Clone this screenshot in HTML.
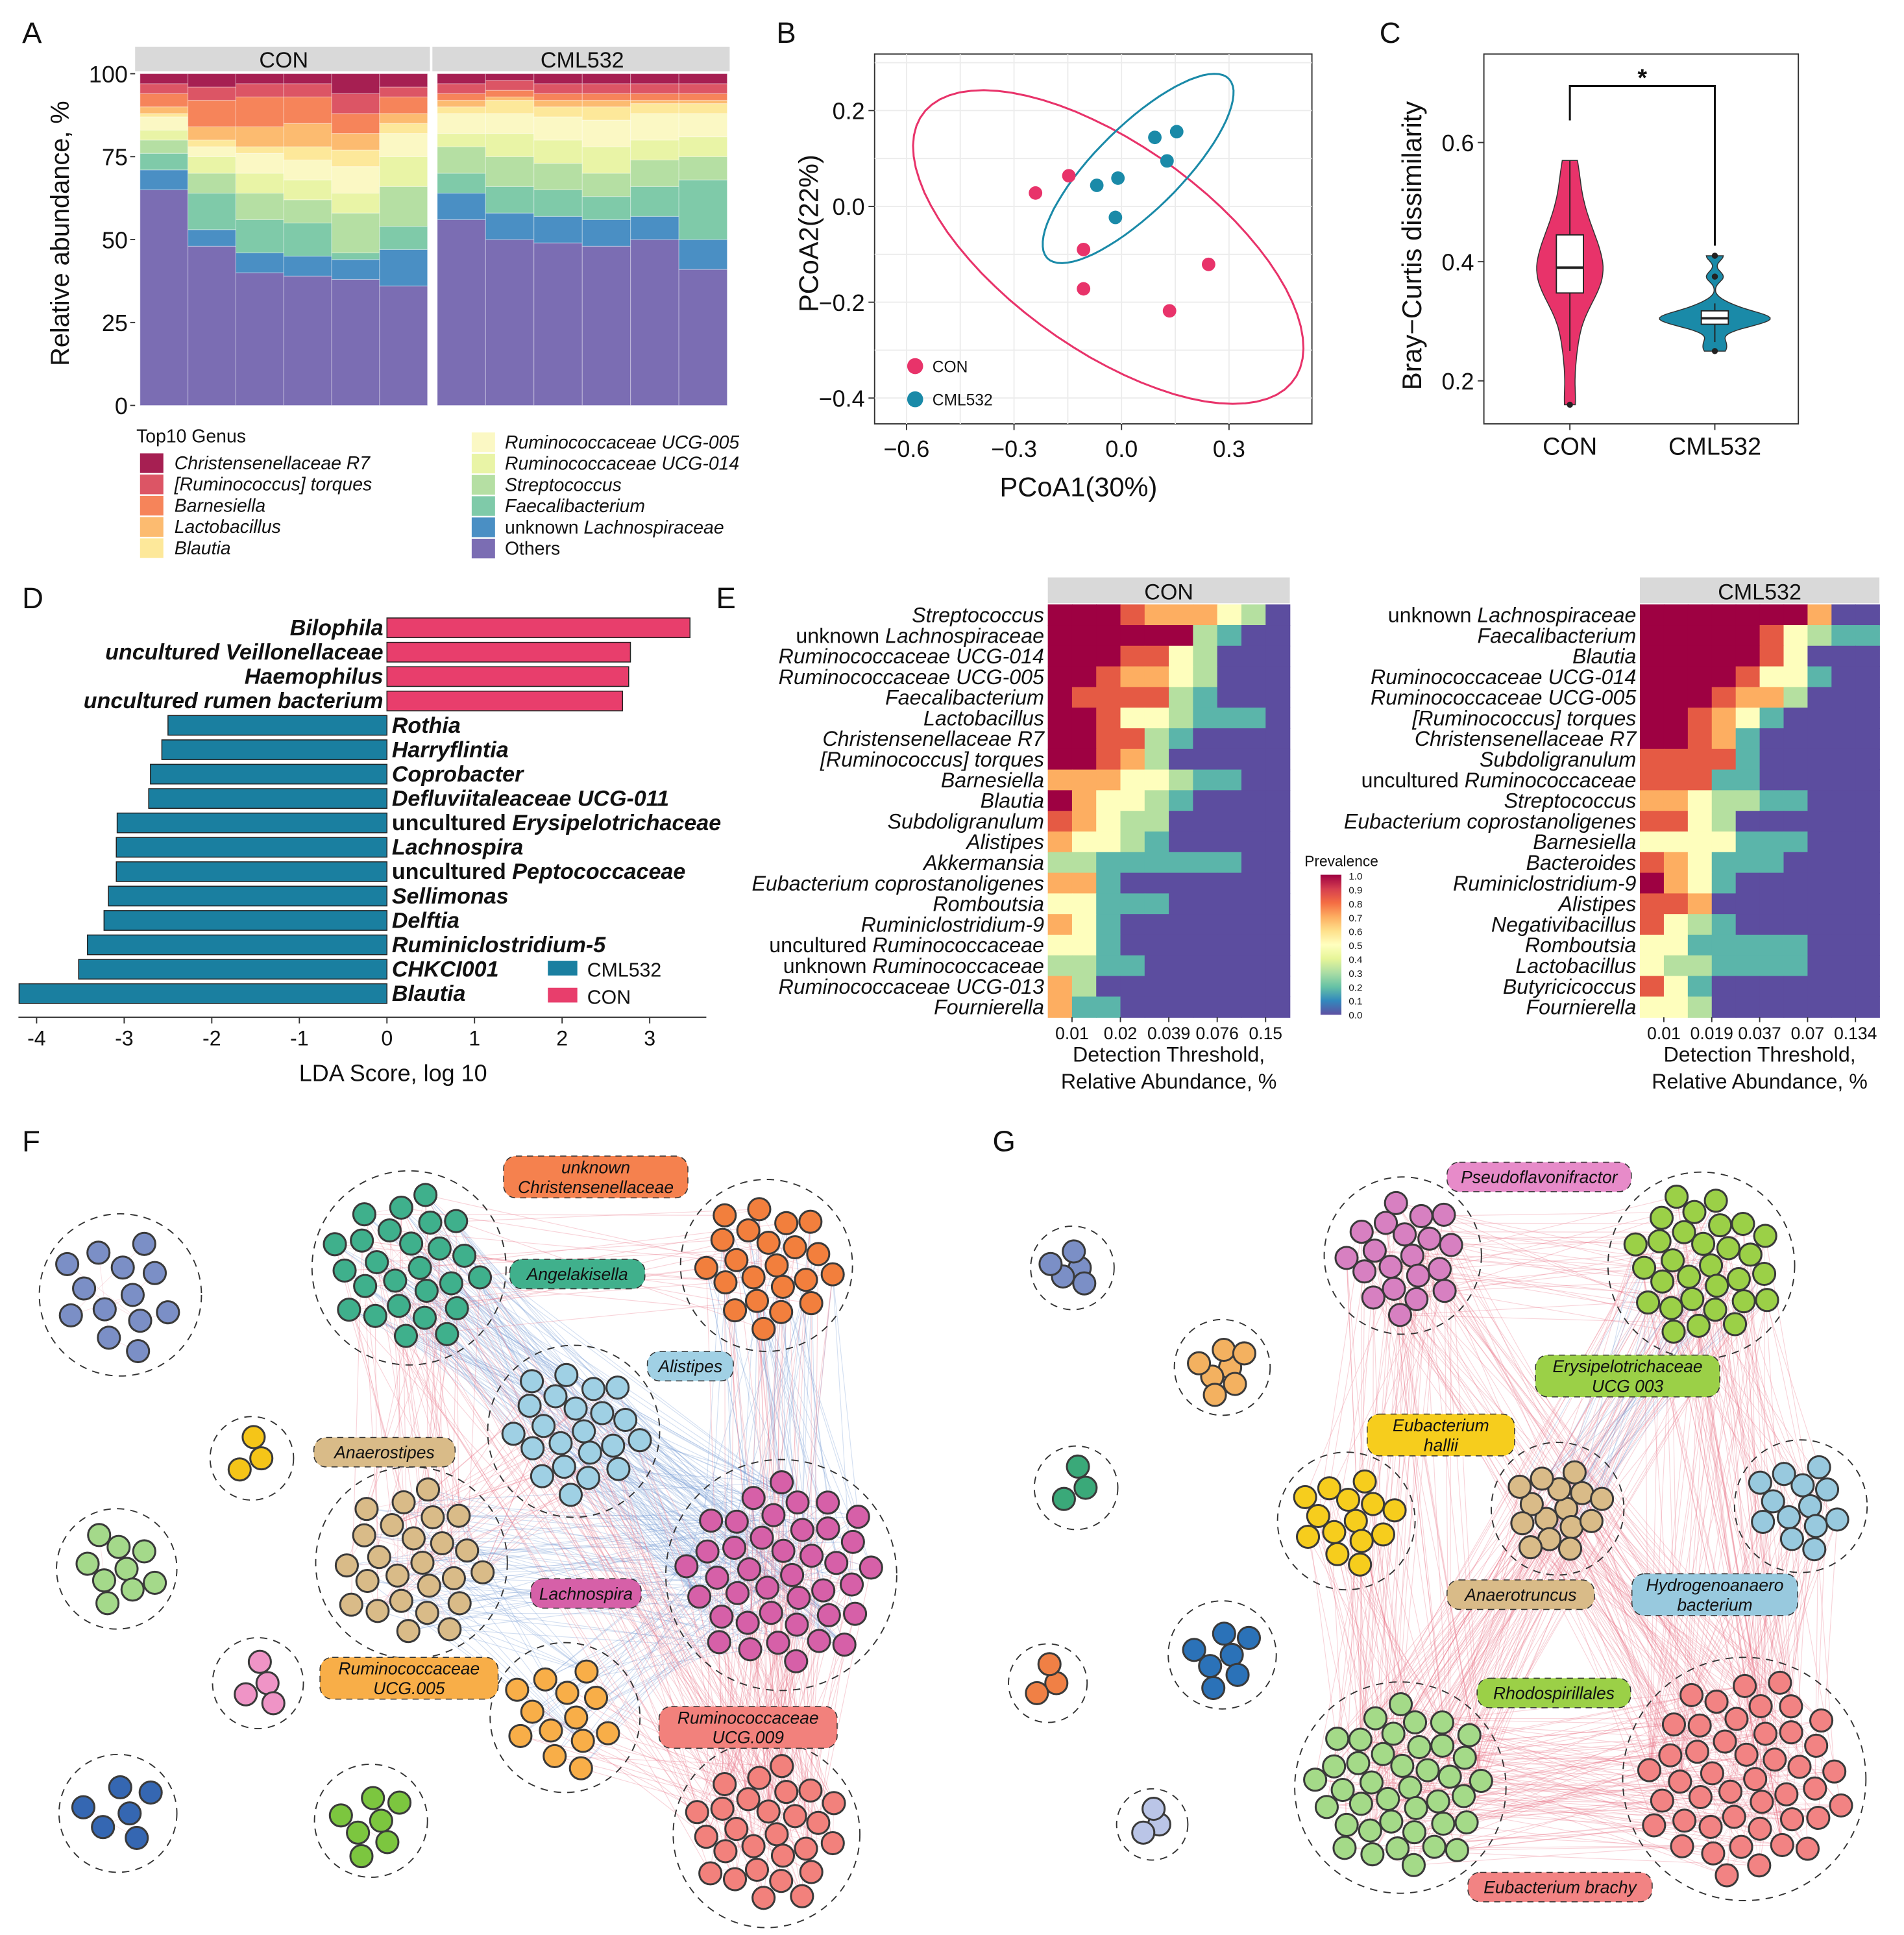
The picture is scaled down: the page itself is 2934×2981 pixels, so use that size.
<!DOCTYPE html>
<html><head><meta charset="utf-8"><style>
html,body{margin:0;padding:0;background:#fff}
svg{display:block}
text{font-family:"Liberation Sans",Arial,sans-serif;fill:#111}
</style></head><body>
<svg id="fig" xmlns="http://www.w3.org/2000/svg" width="2934" height="2981" viewBox="0 0 1550 1575" preserveAspectRatio="none">
<rect x="0" y="0" width="1550" height="1575" fill="#fff"/>
<g id="gF"></g>
<g id="gG"></g>
<g id="gA"></g>
<g id="gB"></g>
<g id="gC"></g>
<g id="gD"></g>
<g id="gE"></g>
</svg>
<script>
// ===== Panel A data =====
const genusNames = ["Others","unknown Lachnospiraceae","Faecalibacterium","Streptococcus","Ruminococcaceae UCG-014","Ruminococcaceae UCG-005","Blautia","Lactobacillus","Barnesiella","[Ruminococcus] torques","Christensenellaceae R7"];
const genusColors = ["#7b6db3","#4a8fc4","#7fcaa9","#b5dfa3","#e9f4a6","#fbf8c4","#fde89a","#fcbb70","#f6845a","#dc5565","#a61f52"];
// cumulative % tops per sample (bottom -> top genera)
const conCum = [
 [65,71,76,80,83,87,88,90,94,97,100],
 [48,53,64,70,75,78,80,84,92,96,100],
 [40,46,56,64,70,76,78,84,93,97,100],
 [39,45,55,62,68,74,78,85,93,97,100],
 [38,44,46,58,64,72,77,82,88,94,100],
 [36,47,54,66,75,82,85,88,93,96,100]];
const cmlCum = [
 [56,64,70,78,82,88,90,92,94,97,100],
 [50,58,66,75,82,88,92,93,95,98,100],
 [49,57,65,73,80,87,90,92,94,97,100],
 [48,56,63,70,78,86,90,92,94,97,100],
 [50,57,66,74,80,88,91,92,94,97,100],
 [41,50,68,75,81,88,91,92,94,97,100]];
const aTicks = [0,25,50,75,100];
// ===== Panel B data =====
const pcoaTicksX = [-0.6,-0.3,0.0,0.3];
const pcoaTicksY = [0.2,0.0,-0.2,-0.4];
const conPC1 = [-0.24,-0.147,-0.106,-0.106,0.134,0.243];
const conPC2 = [0.028,0.064,-0.09,-0.172,-0.218,-0.121];
const cmlPC1 = [-0.069,-0.01,-0.017,0.093,0.154,0.127];
const cmlPC2 = [0.044,0.059,-0.023,0.144,0.156,0.095];
// ===== Panel C data =====
const bcTicks = [0.2,0.4,0.6];
const bcCON = [0.16,0.25,0.31,0.34,0.355,0.37,0.38,0.39,0.40,0.42,0.44,0.45,0.48,0.52,0.57];
const bcCML = [0.25,0.265,0.285,0.292,0.298,0.30,0.303,0.305,0.308,0.31,0.315,0.32,0.33,0.375,0.41];
// ===== Panel D data =====
const ldaTaxa = ["Bilophila","uncultured Veillonellaceae","Haemophilus","uncultured rumen bacterium","Rothia","Harryflintia","Coprobacter","Defluviitaleaceae UCG-011","uncultured Erysipelotrichaceae","Lachnospira","uncultured Peptococcaceae","Sellimonas","Delftia","Ruminiclostridium-5","CHKCI001","Blautia"];
const ldaScores = [3.46,2.78,2.76,2.69,-2.5,-2.57,-2.7,-2.72,-3.08,-3.09,-3.09,-3.18,-3.23,-3.42,-3.52,-4.2];
const ldaTicks = [-4,-3,-2,-1,0,1,2,3];
// ===== Panel E data =====
const conCoreTaxa = ["Streptococcus","unknown Lachnospiraceae","Ruminococcaceae UCG-014","Ruminococcaceae UCG-005","Faecalibacterium","Lactobacillus","Christensenellaceae R7","[Ruminococcus] torques","Barnesiella","Blautia","Subdoligranulum","Alistipes","Akkermansia","Eubacterium coprostanoligenes","Romboutsia","Ruminiclostridium-9","uncultured Ruminococcaceae","unknown Ruminococcaceae","Ruminococcaceae UCG-013","Fournierella"];
const conPrev = ["9998777540","9999994200","9998854000","9987754000","9888842000","9985542220","9988420000","9987400000","7775542200","9755420000","8754400000","7554200000","4422222200","7720000000","5522200000","7520000000","5520000000","4422000000","7400000000","7220000000"];
const cmlCoreTaxa = ["unknown Lachnospiraceae","Faecalibacterium","Blautia","Ruminococcaceae UCG-014","Ruminococcaceae UCG-005","[Ruminococcus] torques","Christensenellaceae R7","Subdoligranulum","uncultured Ruminococcaceae","Streptococcus","Eubacterium coprostanoligenes","Barnesiella","Bacteroides","Ruminiclostridium-9","Alistipes","Negativibacillus","Romboutsia","Lactobacillus","Butyricicoccus","Fournierella"];
const cmlPrev = ["9999999700","9999985422","9999985000","9999855200","9998774000","9987520000","9987200000","8888200000","8882200000","7754422000","8854000000","5555222000","8752220000","9752000000","8870000000","8542000000","5522222000","5442222000","8520000000","5540000000"];
const conThrLabels = ["0.01","0.02","0.039","0.076","0.15"];
const cmlThrLabels = ["0.01","0.019","0.037","0.07","0.134"];

const NS="http://www.w3.org/2000/svg";
function mk(tag,attrs,parent,txt){const e=document.createElementNS(NS,tag);for(const k in attrs)e.setAttribute(k,attrs[k]);if(txt!==undefined)e.textContent=txt;(parent||document.getElementById('fig')).appendChild(e);return e;}
const nonItal = w => /^(unknown|uncultured|Others)$/.test(w);
function taxonText(x,y,s,anchor,size,parent,bold,allItal){
  const t=mk('text',{x:x,y:y,'text-anchor':anchor,'font-size':size,'font-weight':bold?'bold':'normal'},parent);
  s.split(' ').forEach((w,i)=>{mk('tspan',{'font-style':(nonItal(w)&&!allItal)?'normal':'italic'},t,(i?' ':'')+w);});
  return t;
}
const fig=document.getElementById('fig');
[["A",18,35],["B",632,35],["C",1123,35],["D",18,495],["E",583,495],["F",18,937],["G",808,937]].forEach(p=>{
  const t=mk('text',{x:p[1],y:p[2],'font-size':24},fig,p[0]);
  
  
});

// ===== Panel A =====
(function(){
const g=document.getElementById('gA');
const yA=v=>330-v*2.7;
function drawGroup(data,x0,x1,label){
  const bw=(x1-x0)/data.length;
  const strip=mk('rect',{x:x0-4,y:38,width:x1-x0+6,height:20,fill:'#d9d9d9'},g);
  
  
  mk('text',{x:(x0+x1)/2,y:55,'text-anchor':'middle','font-size':18},g,label);
  data.forEach((cum,si)=>{
    let prev=0;
    cum.forEach((top,gi)=>{
      const r=mk('rect',{x:x0+si*bw,y:yA(top),width:bw,height:yA(prev)-yA(top),fill:genusColors[gi],stroke:'rgba(255,255,255,0.35)','stroke-width':0.6},g);
      
      
      prev=top;
    });
  });
}
drawGroup(conCum,114,348,'CON');
drawGroup(cmlCum,356,592,'CML532');
aTicks.forEach(v=>{
  mk('text',{x:104,y:yA(v)+7,'text-anchor':'end','font-size':19},g,String(v));
  mk('line',{x1:106,x2:110,y1:yA(v),y2:yA(v),stroke:'#333'},g);
});
const yt=mk('text',{x:0,y:0,'font-size':21,'text-anchor':'middle',transform:'translate(56,190) rotate(-90)'},g,'Relative abundance, %');


mk('text',{x:111,y:360,'font-size':15},g,'Top10 Genus');
const leftL=[10,9,8,7,6], rightL=[5,4,3,2,1,0];
leftL.forEach((gi,i)=>{
  const y=369+i*17.3;
  const sw=mk('rect',{x:114,y:y,width:19,height:16,fill:genusColors[gi]},g);
  
  
  taxonText(142,y+13,genusNames[gi],'start',15,g);
});
rightL.forEach((gi,i)=>{
  const y=352+i*17.3;
  const sw=mk('rect',{x:384,y:y,width:19,height:16,fill:genusColors[gi]},g);
  
  
  taxonText(411,y+13,genusNames[gi],'start',15,g);
});
})();

// ===== Panel B =====
(function(){
const g=document.getElementById('gB');
const xB=v=>913+v*291.7, yB=v=>168-v*390;
mk('rect',{x:712,y:44,width:356,height:301,fill:'#fff',stroke:'#333','stroke-width':1},g);
for(let v=-0.75;v<=0.45;v+=0.15){const x=xB(v);if(x>712&&x<1068)mk('line',{x1:x,x2:x,y1:44,y2:345,stroke:'#ececec','stroke-width':1},g);}
for(let v=-0.5;v<=0.3;v+=0.1){const y=yB(v);if(y>44&&y<345)mk('line',{x1:712,x2:1068,y1:y,y2:y,stroke:'#ececec','stroke-width':1},g);}
pcoaTicksX.forEach(v=>{mk('line',{x1:xB(v),x2:xB(v),y1:345,y2:350,stroke:'#333'},g);mk('text',{x:xB(v),y:372,'text-anchor':'middle','font-size':19},g,v<0?'\u2212'+Math.abs(v).toFixed(1):v.toFixed(1));});
pcoaTicksY.forEach(v=>{mk('line',{x1:707,x2:712,y1:yB(v),y2:yB(v),stroke:'#333'},g);mk('text',{x:704,y:yB(v)+7,'text-anchor':'end','font-size':19},g,v<0?'\u2212'+Math.abs(v).toFixed(1):v.toFixed(1));});
mk('text',{x:878,y:404,'text-anchor':'middle','font-size':22},g,'PCoA1(30%)');
mk('text',{x:0,y:0,'text-anchor':'middle','font-size':22,transform:'translate(666,190) rotate(-90)'},g,'PCoA2(22%)');
function ellipse(xs,ys,color,name){
  const n=xs.length,mx=xs.reduce((a,b)=>a+b)/n,my=ys.reduce((a,b)=>a+b)/n;
  let sxx=0,syy=0,sxy=0;for(let i=0;i<n;i++){sxx+=(xs[i]-mx)**2;syy+=(ys[i]-my)**2;sxy+=(xs[i]-mx)*(ys[i]-my);}
  sxx/=n-1;syy/=n-1;sxy/=n-1;
  const tr=sxx+syy,det=sxx*syy-sxy*sxy,l1=tr/2+Math.sqrt(tr*tr/4-det),l2=tr/2-Math.sqrt(tr*tr/4-det);
  const th=Math.atan2(l1-sxx,sxy), k=2.95;
  let d='';
  for(let i=0;i<=72;i++){const a=i/72*2*Math.PI;const u=k*Math.sqrt(l1)*Math.cos(a),w=k*Math.sqrt(l2)*Math.sin(a);
    const x=mx+u*Math.cos(th)-w*Math.sin(th), y=my+u*Math.sin(th)+w*Math.cos(th);
    d+=(i?'L':'M')+xB(x).toFixed(1)+' '+yB(y).toFixed(1);}
  const p=mk('path',{d:d,fill:'none',stroke:color,'stroke-width':1.6},g);
  
  
}
ellipse(conPC1,conPC2,'#e8336a','ellipse-con');
ellipse(cmlPC1,cmlPC2,'#1a8aa8','ellipse-cml532');
conPC1.forEach((v,i)=>{const c=mk('circle',{cx:xB(v),cy:yB(conPC2[i]),r:5.5,fill:'#e8336a'},g);});
cmlPC1.forEach((v,i)=>{const c=mk('circle',{cx:xB(v),cy:yB(cmlPC2[i]),r:5.5,fill:'#1a8aa8'},g);});
mk('circle',{cx:745,cy:298,r:6.5,fill:'#e8336a'},g);mk('text',{x:759,y:303,'font-size':13},g,'CON');
mk('circle',{cx:745,cy:325,r:6.5,fill:'#1a8aa8'},g);mk('text',{x:759,y:330,'font-size':13},g,'CML532');
})();

// ===== Panel C =====
(function(){
const g=document.getElementById('gC');
const yC=v=>213-(v-0.4)*485;
mk('rect',{x:1208,y:44,width:256,height:301,fill:'#fff',stroke:'#333','stroke-width':1},g);
bcTicks.forEach(v=>{mk('line',{x1:1203,x2:1208,y1:yC(v),y2:yC(v),stroke:'#333'},g);mk('text',{x:1200,y:yC(v)+7,'text-anchor':'end','font-size':19},g,v.toFixed(1));});
mk('text',{x:0,y:0,'text-anchor':'middle','font-size':22,transform:'translate(1157,200) rotate(-90)'},g,'Bray\u2212Curtis dissimilarity');
const groups=[{d:bcCON,x:1278,c:'#e8336a',n:'CON',w:27},{d:bcCML,x:1396,c:'#1a8aa8',n:'CML532',w:45}];
function q(a,p){const s=[...a].sort((x,y)=>x-y);const h=(s.length-1)*p,l=Math.floor(h);return s[l]+(s[Math.min(l+1,s.length-1)]-s[l])*(h-l);}
function kde(a){const n=a.length,m=a.reduce((x,y)=>x+y)/n,sd=Math.sqrt(a.reduce((s,v)=>s+(v-m)**2,0)/(n-1));const iqr=q(a,.75)-q(a,.25);const bw=0.9*Math.min(sd,iqr/1.34)*Math.pow(n,-0.2);
  const lo=Math.min(...a),hi=Math.max(...a),pts=[];for(let i=0;i<=60;i++){const y=lo+(hi-lo)*i/60;let s=0;a.forEach(v=>{s+=Math.exp(-0.5*((y-v)/bw)**2);});pts.push([y,s/(n*bw*Math.sqrt(2*Math.PI))]);}return pts;}
groups.forEach(G=>{
  const pts=kde(G.d),K=G.w/Math.max(...pts.map(p=>p[1]));let d='';
  pts.forEach((p,i)=>{d+=(i?'L':'M')+(G.x+p[1]*K).toFixed(1)+' '+yC(p[0]).toFixed(1);});
  for(let i=pts.length-1;i>=0;i--)d+='L'+(G.x-pts[i][1]*K).toFixed(1)+' '+yC(pts[i][0]).toFixed(1);
  const v=mk('path',{d:d+'Z',fill:G.c,stroke:'#333','stroke-width':0.8},g);
  
  
  const q1=q(G.d,.25),q3=q(G.d,.75),md=q(G.d,.5),iqr=q3-q1;
  const inR=G.d.filter(x=>x>=q1-1.5*iqr&&x<=q3+1.5*iqr);
  mk('line',{x1:G.x,x2:G.x,y1:yC(Math.max(...inR)),y2:yC(Math.min(...inR)),stroke:'#222','stroke-width':1},g);
  const b=mk('rect',{x:G.x-11,y:yC(q3),width:22,height:yC(q1)-yC(q3),fill:'#fff',stroke:'#222','stroke-width':1},g);
  
  
  mk('line',{x1:G.x-11,x2:G.x+11,y1:yC(md),y2:yC(md),stroke:'#222','stroke-width':2},g);
  G.d.filter(x=>!inR.includes(x)).forEach(o=>{mk('circle',{cx:G.x,cy:yC(o),r:2.5,fill:'#222'},g);});
  mk('line',{x1:G.x,x2:G.x,y1:345,y2:350,stroke:'#333'},g);
  mk('text',{x:G.x,y:370,'text-anchor':'middle','font-size':20},g,G.n);
});
mk('path',{d:'M1278 98 V70 H1396 V200',fill:'none',stroke:'#111','stroke-width':1.6},g);
mk('text',{x:1337,y:70,'text-anchor':'middle','font-size':20,'font-weight':'bold'},g,'*');
})();

// ===== Panel D =====
(function(){
const g=document.getElementById('gD');
const xD=v=>315+v*71.3, rowY=i=>511+i*19.85;
ldaScores.forEach((v,i)=>{
  const c=v>0?'#e83e6c':'#1a7fa0';
  const r=mk('rect',{x:Math.min(xD(0),xD(v)),y:rowY(i)-8,width:Math.abs(xD(v)-xD(0)),height:16,fill:c,stroke:'#222','stroke-width':0.8},g);
  
  
  if(v>0) taxonText(xD(0)-3,rowY(i)+6,ldaTaxa[i],'end',18,g,true,true);
  else taxonText(xD(0)+4,rowY(i)+6,ldaTaxa[i],'start',18,g,true);
});
mk('line',{x1:15,x2:575,y1:828,y2:828,stroke:'#333','stroke-width':1},g);
ldaTicks.forEach(v=>{mk('line',{x1:xD(v),x2:xD(v),y1:828,y2:833,stroke:'#333'},g);mk('text',{x:xD(v),y:851,'text-anchor':'middle','font-size':17},g,v<0?'-'+Math.abs(v):String(v));});
mk('text',{x:320,y:880,'text-anchor':'middle','font-size':19},g,'LDA Score, log 10');
mk('rect',{x:446,y:782,width:24,height:12,fill:'#1a7fa0'},g);mk('text',{x:478,y:795,'font-size':16},g,'CML532');
mk('rect',{x:446,y:804,width:24,height:12,fill:'#e83e6c'},g);mk('text',{x:478,y:817,'font-size':16},g,'CON');
})();

// ===== Panel E =====
(function(){
const g=document.getElementById('gE');
const cmap={"9":"#9e0142","8":"#e55a44","7":"#fdae61","6":"#fee08b","5":"#fefebd","4":"#b5e0a0","3":"#88cfa4","2":"#5bb5aa","1":"#3d86ba","0":"#5c4d9f"};
function heat(taxa,prev,x0,x1,label,thr){
  const y0=492,y1=828,cw=(x1-x0)/10,rh=(y1-y0)/taxa.length;
  const s=mk('rect',{x:x0,y:470,width:x1-x0,height:21,fill:'#d9d9d9'},g);
  
  
  mk('text',{x:(x0+x1)/2,y:488,'text-anchor':'middle','font-size':18},g,label);
  prev.forEach((row,ri)=>{
    row.split('').forEach((d,ci)=>{
      const r=mk('rect',{x:x0+ci*cw,y:y0+ri*rh,width:cw+0.4,height:rh+0.4,fill:cmap[d]},g);
      
      
    });
    taxonText(x0-3,y0+ri*rh+rh/2+6,taxa[ri],'end',17,g);
  });
  thr.forEach((t,i)=>{const x=x0+cw*(1+2*i);mk('line',{x1:x,x2:x,y1:y1,y2:y1+4,stroke:'#333'},g);mk('text',{x:x,y:y1+18,'text-anchor':'middle','font-size':14},g,t);});
  mk('text',{x:(x0+x1)/2,y:864,'text-anchor':'middle','font-size':17},g,'Detection Threshold,');
  mk('text',{x:(x0+x1)/2,y:886,'text-anchor':'middle','font-size':17},g,'Relative Abundance, %');
}
heat(conCoreTaxa,conPrev,853,1050,'CON',conThrLabels);
heat(cmlCoreTaxa,cmlPrev,1335,1530,'CML532',cmlThrLabels);
const lg=mk('linearGradient',{id:'spec',x1:0,y1:0,x2:0,y2:1},fig);
["#9e0142","#d53e4f","#f46d43","#fdae61","#fee08b","#ffffbf","#e6f598","#abdda4","#66c2a5","#3288bd","#5e4fa2"].forEach((c,i)=>mk('stop',{offset:i/10,'stop-color':c},lg));
const cb=mk('rect',{x:1075,y:712,width:17,height:114,fill:'url(#spec)'},g);


mk('text',{x:1062,y:705,'font-size':12},g,'Prevalence');
for(let i=0;i<=10;i++)mk('text',{x:1098,y:716+i*11.3,'font-size':8},g,(1-i/10).toFixed(1));
})();

// ===== Networks =====
function network(gid,clusters,labels,edges){
  const g=document.getElementById(gid);
  const nodes=clusters.map(c=>{const a=[];for(let i=0;i<c.n;i++){const rr=(c.R-11)*Math.sqrt((i+0.5)/c.n),an=i*2.39996;a.push([c.x+rr*Math.cos(an),c.y+rr*Math.sin(an)]);}return a;});
  const eg=mk('g',{},g);
  edges.forEach(([a,b,m])=>{
    const A=nodes[a],B=nodes[b],M=m*3;
    for(let i=0;i<A.length;i++)for(let j=0;j<B.length;j++){
      if((i*7+j*13+a*3+b)%M!==0)continue;
      mk('line',{x1:A[i][0],y1:A[i][1],x2:B[j][0],y2:B[j][1],stroke:(i+j)%3?'rgba(232,110,130,0.3)':'rgba(110,150,210,0.3)','stroke-width':0.6},eg);
    }
  });
  clusters.forEach((c,ci)=>{
    for(let i=0;i<c.n;i+=3)for(let j=i+1;j<c.n;j+=4){mk('line',{x1:nodes[ci][i][0],y1:nodes[ci][i][1],x2:nodes[ci][j][0],y2:nodes[ci][j][1],stroke:'rgba(232,110,130,0.2)','stroke-width':0.5},eg);}
    const ring=mk('circle',{cx:c.x,cy:c.y,r:c.R+4,fill:'none',stroke:'#333','stroke-width':1,'stroke-dasharray':'6 5'},g);
    
    
    nodes[ci].forEach(p=>{const nd=mk('circle',{cx:p[0],cy:p[1],r:9,fill:c.c,stroke:'#3a3a3a','stroke-width':1.6},g);
      
      });
  });
  labels.forEach(L=>{
    const lines=L.t.split('|');
    const r=mk('rect',{x:L.x-L.w/2,y:L.y-(lines.length>1?17:12),width:L.w,height:lines.length>1?34:24,rx:10,fill:L.c,stroke:'#333','stroke-width':0.8,'stroke-dasharray':'5 4'},g);
    
    
    lines.forEach((s,i)=>mk('text',{x:L.x,y:L.y+5+(i-(lines.length-1)/2)*16,'text-anchor':'middle','font-size':14,'font-style':'italic'},g,s));
  });
}
network('gF',[
 {x:98,y:1054,R:62,n:13,c:'#7b8fc6'},
 {x:333,y:1032,R:75,n:26,c:'#3fb08c'},
 {x:624,y:1030,R:66,n:22,c:'#f27f3d'},
 {x:467,y:1165,R:66,n:22,c:'#9fd0e4'},
 {x:205,y:1187,R:30,n:3,c:'#f5c518'},
 {x:335,y:1272,R:74,n:25,c:'#d9bb88'},
 {x:636,y:1282,R:90,n:40,c:'#d660a8'},
 {x:95,y:1277,R:45,n:9,c:'#a4d98a'},
 {x:210,y:1370,R:33,n:4,c:'#ef94c6'},
 {x:460,y:1398,R:57,n:13,c:'#f8ae48'},
 {x:624,y:1493,R:72,n:27,c:'#f2817c'},
 {x:96,y:1476,R:44,n:6,c:'#3567b2'},
 {x:302,y:1482,R:42,n:7,c:'#7cc63f'}],
 [{x:485,y:958,w:150,t:'unknown|Christensenellaceae',c:'#f5814e'},
  {x:470,y:1037,w:110,t:'Angelakisella',c:'#40b08c'},
  {x:562,y:1112,w:70,t:'Alistipes',c:'#a0d0e4'},
  {x:313,y:1182,w:115,t:'Anaerostipes',c:'#d9bb88'},
  {x:477,y:1297,w:90,t:'Lachnospira',c:'#d660a8'},
  {x:333,y:1366,w:145,t:'Ruminococcaceae|UCG.005',c:'#f8ae48'},
  {x:609,y:1406,w:145,t:'Ruminococcaceae|UCG.009',c:'#f2817c'}],
 [[1,3,5],[1,6,7],[1,5,6],[1,2,9],[2,6,6],[3,6,5],[3,5,7],[5,6,6],[6,10,5],[9,10,6],[9,6,6],[3,10,8],[1,10,9],[2,10,7],[5,9,7]]);
network('gG',[
 {x:873,y:1032,R:30,n:5,c:'#7b8fc6'},
 {x:1142,y:1022,R:60,n:20,c:'#d780c1'},
 {x:1385,y:1030,R:72,n:30,c:'#9bd047'},
 {x:995,y:1113,R:35,n:7,c:'#f3b160'},
 {x:876,y:1211,R:30,n:3,c:'#3aa979'},
 {x:1096,y:1238,R:52,n:14,c:'#f6cd1d'},
 {x:1268,y:1228,R:50,n:15,c:'#d9bb88'},
 {x:1466,y:1226,R:50,n:13,c:'#98c9de'},
 {x:995,y:1347,R:40,n:7,c:'#2b72b8'},
 {x:853,y:1370,R:28,n:3,c:'#f08045'},
 {x:1140,y:1455,R:82,n:40,c:'#a4da88'},
 {x:1420,y:1448,R:95,n:45,c:'#f28383'},
 {x:938,y:1485,R:25,n:3,c:'#bac5e7'}],
 [{x:1253,y:958,w:150,t:'Pseudoflavonifractor',c:'#e78bc9'},
  {x:1325,y:1120,w:150,t:'Erysipelotrichaceae|UCG 003',c:'#9bd047'},
  {x:1173,y:1168,w:120,t:'Eubacterium|hallii',c:'#f6cd1d'},
  {x:1238,y:1298,w:120,t:'Anaerotruncus',c:'#d9bb88'},
  {x:1396,y:1298,w:135,t:'Hydrogenoanaero|bacterium',c:'#98c9de'},
  {x:1265,y:1378,w:125,t:'Rhodospirillales',c:'#9bd047'},
  {x:1270,y:1536,w:150,t:'Eubacterium brachy',c:'#f28383'}],
 [[1,2,6],[1,10,7],[2,11,7],[1,11,8],[2,10,8],[5,10,5],[6,11,5],[7,11,5],[10,11,6],[6,10,6],[2,6,6],[2,7,6],[1,5,6]]);
</script>
</body></html>
